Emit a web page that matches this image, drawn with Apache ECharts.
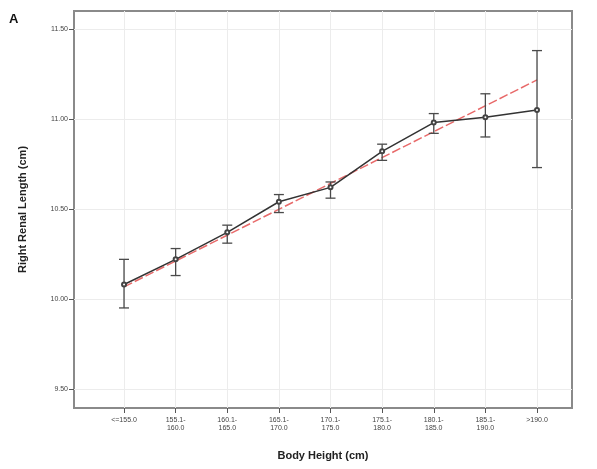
<!DOCTYPE html>
<html><head><meta charset="utf-8">
<script src="https://cdn.jsdelivr.net/npm/echarts@6/dist/echarts.min.js"></script>
<style>html,body{margin:0;padding:0;background:#fff}#c{width:597px;height:469px}</style>
</head><body><div id="c"></div>
<script>
const categories = ['<=155.0','155.1-\n160.0','160.1-\n165.0','165.1-\n170.0','170.1-\n175.0','175.1-\n180.0','180.1-\n185.0','185.1-\n190.0','>190.0'];
const meanValues = [10.08, 10.22, 10.37, 10.54, 10.62, 10.82, 10.98, 11.01, 11.05];
const lowerValues = [9.95, 10.13, 10.31, 10.48, 10.56, 10.77, 10.92, 10.90, 10.73];
const upperValues = [10.22, 10.28, 10.41, 10.58, 10.65, 10.86, 11.03, 11.14, 11.38];
const fitStart = 10.067, fitEnd = 11.217;
const yTicks = [9.5, 10.0, 10.5, 11.0, 11.5];
const xPositions = categories.map((c, i) => i + 1);

const chart = echarts.init(document.getElementById('c'));
const font = 'Liberation Sans, Arial, sans-serif';
chart.setOption({
  animation: false,
  graphic: [{type:'text', left: 9, top: 13, style:{text:'A', font:'bold 13px ' + font, fill:'#111'}}],
  grid: {left: 74, right: 25, top: 11, bottom: 61, show: true, borderColor: '#8a8a8a', borderWidth: 2},
  xAxis: {
    type: 'value', min: 0.031, max: 9.678,
    name: 'Body Height (cm)', nameLocation: 'middle', nameGap: 42,
    nameTextStyle: {fontFamily: font, fontSize: 11, fontWeight: 'bold', color: '#222'},
    axisLine: {show: false},
    axisTick: {show: true, customValues: xPositions, length: 5, lineStyle: {color: '#555'}},
    axisLabel: {customValues: xPositions, formatter: v => categories[Math.round(v) - 1] || '',
      fontFamily: font, fontSize: 7, color: '#444', lineHeight: 8, margin: 8},
    splitLine: {show: true, lineStyle: {color: '#ececec', width: 1}}
  },
  yAxis: {
    type: 'value', min: 9.394, max: 11.6,
    name: 'Right Renal Length (cm)', nameLocation: 'middle', nameGap: 46,
    nameTextStyle: {fontFamily: font, fontSize: 11, fontWeight: 'bold', color: '#222'},
    axisLine: {show: false},
    axisTick: {show: true, customValues: yTicks, length: 5, lineStyle: {color: '#555'}},
    axisLabel: {customValues: yTicks, formatter: v => v.toFixed(2), fontFamily: font, fontSize: 7, color: '#444', margin: 6},
    splitLine: {show: true, lineStyle: {color: '#ececec', width: 1}}
  },
  series: [
    {
      type: 'line', data: [[1, fitStart], [9, fitEnd]], symbol: 'none',
      lineStyle: {color: '#e86a6a', width: 1.5, type: [9, 3]}, z: 3
    },
    {
      type: 'custom', z: 4,
      data: xPositions.map((x, i) => [x, lowerValues[i], upperValues[i]]),
      renderItem: function (params, api) {
        const lo = api.coord([api.value(0), api.value(1)]);
        const hi = api.coord([api.value(0), api.value(2)]);
        const hw = 5;
        const st = {stroke: '#4a4a4a', lineWidth: 1.3};
        return {type: 'group', children: [
          {type: 'line', shape: {x1: lo[0], y1: lo[1], x2: hi[0], y2: hi[1]}, style: st},
          {type: 'line', shape: {x1: lo[0] - hw, y1: lo[1], x2: lo[0] + hw, y2: lo[1]}, style: st},
          {type: 'line', shape: {x1: hi[0] - hw, y1: hi[1], x2: hi[0] + hw, y2: hi[1]}, style: st}
        ]};
      }
    },
    {
      type: 'line', data: xPositions.map((x, i) => [x, meanValues[i]]),
      symbol: 'emptyCircle', symbolSize: 4,
      itemStyle: {color: '#444', borderColor: '#444', borderWidth: 1},
      lineStyle: {color: '#333', width: 1.5}, z: 5
    }
  ]
});
</script></body></html>
